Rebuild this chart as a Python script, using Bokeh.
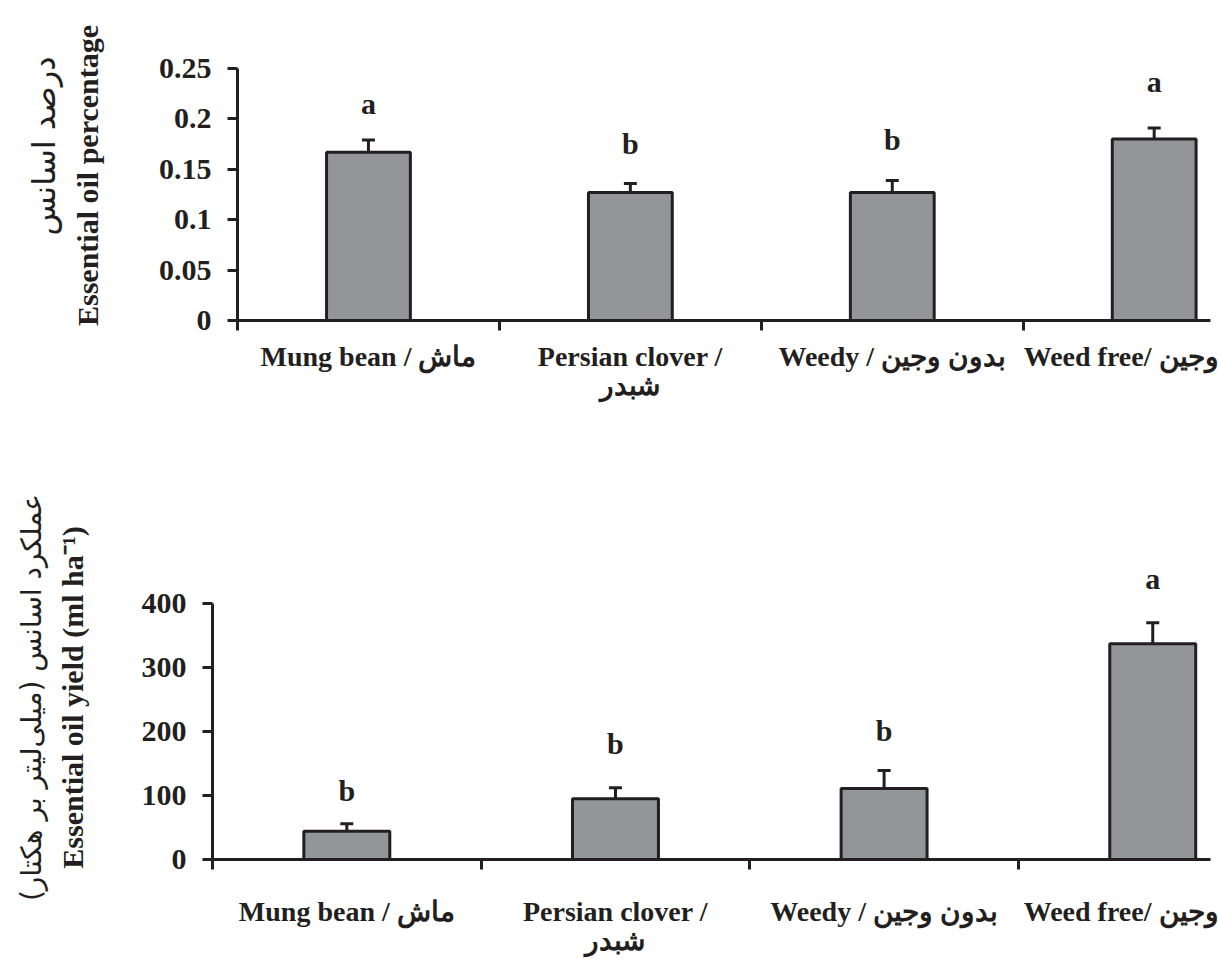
from bokeh.plotting import figure
from bokeh.models import (Range1d, LinearAxis, FixedTicker, Whisker, TeeHead,
                          ColumnDataSource, Title)
from bokeh.core.properties import value
from bokeh.embed import file_html
from bokeh.resources import INLINE

# ---------------- data ----------------
categories = ["Mung bean / ماش", "Persian clover /\nشبدر", "Weedy / بدون وجین", "Weed free/ وجین"]

oil_pct = [0.167, 0.127, 0.127, 0.180]
oil_pct_se = [0.012, 0.009, 0.012, 0.011]
oil_pct_letters = ["a", "b", "b", "a"]
oil_pct_letter_y = [0.215, 0.176, 0.180, 0.237]
pct_ticks = [0, 0.05, 0.1, 0.15, 0.2, 0.25]
pct_tick_labels = ["0", "0.05", "0.1", "0.15", "0.2", "0.25"]

oil_yield = [44, 95, 111, 337]
oil_yield_se = [12, 17, 28, 33]
oil_yield_letters = ["b", "b", "b", "a"]
oil_yield_letter_y = [108, 181, 201, 439]
yield_ticks = [0, 100, 200, 300, 400]
yield_tick_labels = ["0", "100", "200", "300", "400"]

INK = "#231f20"
BAR = "#939598"
SERIF = "Liberation Serif"


def make_panel(vals, se, letters, letter_y, ticks, tick_labels, y_end, left, top_border,
               title_en, title_fa, fa_align, fa_offset, fa_size, height, bottom_border,
               en_standoff, lab_standoff):
    centers = [i + 0.5 for i in range(len(categories))]
    bounds_ticks = [i for i in range(len(categories))]
    p = figure(width=1218, height=height, x_range=Range1d(0, 3.715), y_range=Range1d(0, y_end),
               output_backend="svg", toolbar_location=None, x_axis_type=None, y_axis_type=None,
               min_border_left=left, min_border_right=8, min_border_top=top_border,
               min_border_bottom=bottom_border)
    p.outline_line_color = None
    p.background_fill_color = "white"

    src = ColumnDataSource(dict(x=centers, top=vals,
                                upper=[v + s for v, s in zip(vals, se)],
                                lab=letters, ly=letter_y))
    p.vbar(x="x", top="top", width=0.32, source=src, fill_color=BAR,
           line_color=INK, line_width=3)
    w = Whisker(base="x", lower="top", upper="upper", source=src, line_color=INK, line_width=3,
                upper_head=TeeHead(size=13, line_width=3, line_color=INK), lower_head=None)
    p.add_layout(w)
    p.text(x="x", y="ly", text="lab", source=src, text_font=value(SERIF),
           text_font_style="bold", text_font_size="30px", text_align="center",
           text_baseline="middle", text_color=INK)

    yax = LinearAxis(ticker=FixedTicker(ticks=ticks), bounds=(ticks[0], ticks[-1]),
                     major_label_overrides={t: l for t, l in zip(ticks, tick_labels)},
                     axis_line_width=3, axis_line_color=INK,
                     major_tick_line_width=3, major_tick_line_color=INK,
                     major_tick_out=10, major_tick_in=0, minor_tick_line_color=None,
                     major_label_standoff=16,
                     major_label_text_font=SERIF, major_label_text_font_style="bold",
                     major_label_text_font_size="30px", major_label_text_color=INK,
                     axis_label=title_en, axis_label_text_font=SERIF,
                     axis_label_text_font_style="bold", axis_label_text_font_size="30px",
                     axis_label_text_color=INK, axis_label_standoff=en_standoff)
    p.add_layout(yax, "left")
    p.add_layout(Title(text=title_fa, align=fa_align, offset=fa_offset,
                       text_font="DejaVu Sans", text_font_style="normal",
                       text_font_size=fa_size, text_color=INK), "left")

    # boundary ticks between categories
    xax = LinearAxis(ticker=FixedTicker(ticks=bounds_ticks), axis_line_width=3,
                     axis_line_color=INK, major_tick_line_width=3, major_tick_line_color=INK,
                     major_tick_out=10, major_tick_in=0, minor_tick_line_color=None,
                     major_label_text_font_size="0px", major_label_text_color=None,
                     major_label_standoff=0, axis_label=None)
    p.add_layout(xax, "below")
    # category names centred on each category
    lax = LinearAxis(ticker=FixedTicker(ticks=centers),
                     major_label_overrides={c: l for c, l in zip(centers, categories)},
                     axis_line_color=None, major_tick_line_color=None,
                     minor_tick_line_color=None, major_tick_out=0, major_tick_in=0,
                     major_label_standoff=lab_standoff, axis_label=None,
                     major_label_text_font=SERIF, major_label_text_font_style="bold",
                     major_label_text_font_size="28px", major_label_text_color=INK,
                     major_label_text_line_height=0.95)
    p.add_layout(lax, "below")
    return p


top = make_panel(oil_pct, oil_pct_se, oil_pct_letters, oil_pct_letter_y, pct_ticks,
                 pct_tick_labels, 0.2877, 237, 30, "Essential oil percentage", "درصد اسانس",
                 "left", 85, "32px", 480, 160, 52, 10)
bottom = make_panel(oil_yield, oil_yield_se, oil_yield_letters, oil_yield_letter_y,
                    yield_ticks, yield_tick_labels, 506.25, 212, 55,
                    "Essential oil yield (ml ha\u207b\u00b9)",
                    "عملکرد اسانس (میلی\u200cلیتر بر هکتار)", "center", 0, "28px",
                    482, 103, 50, 26)

open("out.html", "w").write(file_html([top, bottom], INLINE))
